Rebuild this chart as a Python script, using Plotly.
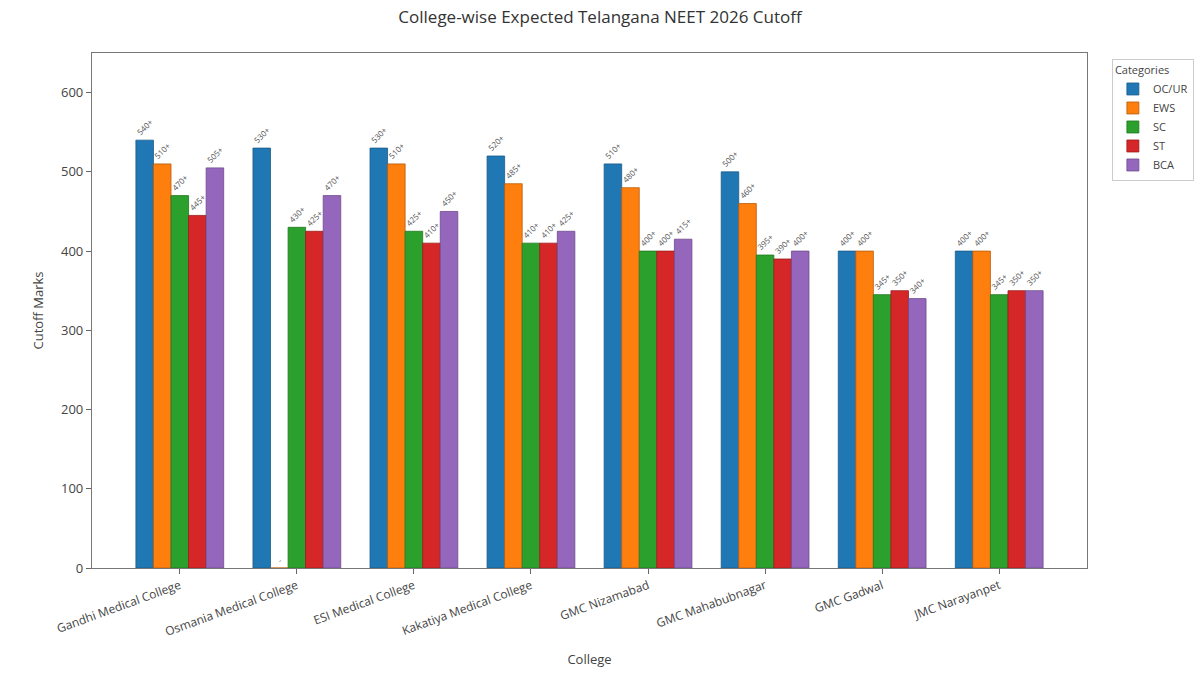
import plotly.graph_objects as go

colleges = ["Gandhi Medical College", "Osmania Medical College", "ESI Medical College",
            "Kakatiya Medical College", "GMC Nizamabad", "GMC Mahabubnagar",
            "GMC Gadwal", "JMC Narayanpet"]
categories = ["OC/UR", "EWS", "SC", "ST", "BCA"]
oc_ur = [540, 530, 530, 520, 510, 500, 400, 400]
ews = [510, 0, 510, 485, 480, 460, 400, 400]
sc = [470, 430, 425, 410, 400, 395, 345, 345]
st = [445, 425, 410, 410, 400, 390, 350, 350]
bca = [505, 470, 450, 425, 415, 400, 340, 350]
series = [oc_ur, ews, sc, st, bca]
colors = ["#1f77b4", "#ff7f0e", "#2ca02c", "#d62728", "#9467bd"]
edges = ["#1a5a8a", "#b85c0a", "#1f7a1f", "#9a1c1c", "#6d4a8c"]

font = "Open Sans, Roboto, sans-serif"
fig = go.Figure()
for name, vals, c, e in zip(categories, series, colors, edges):
    labels = [f"{v}+" if v > 0 else "-" for v in vals]
    fig.add_trace(go.Bar(
        name=name, x=list(range(len(colleges))), y=vals,
        marker=dict(color=c, line=dict(color=e, width=0.8)),
        text=labels, textposition="outside", textangle=-45,
        textfont=dict(size=8, color="#555555", family=font),
        constraintext="none", cliponaxis=False,
    ))

fig.update_layout(
    width=1200, height=673,
    paper_bgcolor="white", plot_bgcolor="white",
    margin=dict(l=92, r=113, t=53, b=105, autoexpand=False),
    barmode="group", bargap=0.25, bargroupgap=0,
    title=dict(text="College-wise Expected Telangana NEET 2026 Cutoff",
               x=0.5, xanchor="center", y=0.975, yanchor="middle",
               font=dict(size=17, color="#333333", family=font)),
    font=dict(family=font, color="#444444"),
    legend=dict(title=dict(text="Categories", font=dict(size=11, color="#444444")),
                x=1.025, y=0.988, xanchor="left", yanchor="top",
                bordercolor="#cccccc", borderwidth=1, bgcolor="white",
                font=dict(size=11, color="#444444"),
                itemwidth=30, tracegroupgap=0),
    showlegend=True,
)
fig.update_xaxes(
    tickmode="array", tickvals=list(range(len(colleges))), ticktext=colleges,
    range=[-0.75, 7.75], tickangle=-20, ticks="outside", ticklen=5,
    tickcolor="#666666", tickfont=dict(size=12, color="#444444"),
    showline=True, linecolor="#777777", linewidth=1.2, mirror=True,
    showgrid=False, zeroline=False, automargin=False,
    title=dict(text="College", font=dict(size=13, color="#444444"), standoff=16),
)
fig.update_yaxes(
    range=[0, 650], tickvals=[0, 100, 200, 300, 400, 500, 600],
    ticks="outside", ticklen=5, tickcolor="#666666",
    tickfont=dict(size=13, color="#444444"),
    showline=True, linecolor="#777777", linewidth=1.2, mirror=True,
    showgrid=False, zeroline=False, automargin=False,
    title=dict(text="Cutoff Marks", font=dict(size=13, color="#444444"), standoff=14),
)
fig.write_html("out.html")
